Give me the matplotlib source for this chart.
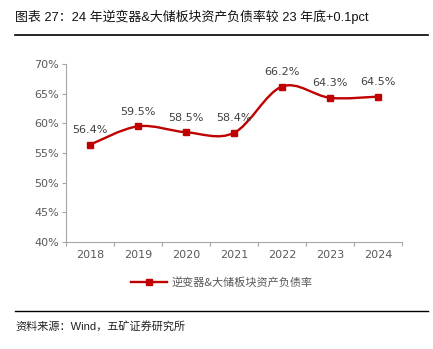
import numpy as np
import matplotlib.pyplot as plt
from matplotlib.path import Path
from matplotlib.patches import PathPatch
from matplotlib.lines import Line2D

years = ["2018", "2019", "2020", "2021", "2022", "2023", "2024"]
ratio = [56.4, 59.5, 58.5, 58.4, 66.2, 64.3, 64.5]
yticks = [40, 45, 50, 55, 60, 65, 70]

title = "图表 27：24 年逆变器&大储板块资产负债率较 23 年底+0.1pct"
series_name = "逆变器&大储板块资产负债率"
source = "资料来源：Wind，五矿证券研究所"

RED = "#C00000"
GRAY = "#595959"
CJK = ["Liberation Sans", "Noto Sans CJK SC"]

plt.rcParams["font.family"] = ["DejaVu Sans", "Noto Sans CJK SC"]


def smooth_path(xs, ys):
    # excel-like smoothed line: cubic bezier, catmull-rom control points
    pts = np.column_stack([xs, ys]).astype(float)
    n = len(pts)
    verts = [pts[0]]
    codes = [Path.MOVETO]
    for i in range(n - 1):
        p0 = pts[max(i - 1, 0)]
        p1 = pts[i]
        p2 = pts[i + 1]
        p3 = pts[min(i + 2, n - 1)]
        c1 = p1 + (p2 - p0) / 6
        c2 = p2 - (p3 - p1) / 6
        verts += [c1, c2, p2]
        codes += [Path.CURVE4] * 3
    return Path(verts, codes)


fig = plt.figure(figsize=(4.33, 3.49), dpi=100)
ax = fig.add_axes([66 / 433, 1 - 242 / 349, 336 / 433, 178 / 349])

x = np.arange(len(years))
ax.add_patch(PathPatch(smooth_path(x, ratio), fill=False, edgecolor=RED,
                       linewidth=1.7, capstyle="round", joinstyle="round", zorder=2))
ax.plot(x, ratio, linestyle="none", marker="s", markersize=5, color=RED, zorder=3)

for xi, v in zip(x, ratio):
    ax.annotate(f"{v:.1f}%", (xi, v), xytext=(0, 7), textcoords="offset points",
                ha="center", va="bottom", fontsize=8, color="#404040")

ax.set_xlim(-0.5, len(years) - 0.5)
ax.set_ylim(40, 70)
ax.set_yticks(yticks)
ax.set_yticklabels([f"{t}%" for t in yticks])
ax.set_xticks(x)
ax.set_xticklabels(years)
ax.set_xticks(np.arange(len(years) + 1) - 0.5, minor=True)
ax.tick_params(axis="x", which="major", length=0, pad=6, labelsize=8, labelcolor=GRAY)
ax.tick_params(axis="x", which="minor", length=3, color="#A6A6A6", width=0.8)
ax.tick_params(axis="y", length=3, color="#A6A6A6", width=0.8, pad=2,
               labelsize=8, labelcolor=GRAY)
for s in ["top", "right"]:
    ax.spines[s].set_visible(False)
for s in ["left", "bottom"]:
    ax.spines[s].set_color("#A6A6A6")
    ax.spines[s].set_linewidth(0.8)

handle = Line2D([], [], color=RED, linewidth=1.7, marker="s", markersize=5)
fig.legend([handle], [series_name], loc="center", bbox_to_anchor=(222 / 433, 1 - 282 / 349),
           frameon=False, handlelength=3.2, handletextpad=0.4,
           prop={"family": ["Noto Sans CJK SC"], "size": 8}, labelcolor=GRAY)

fig.text(15 / 433, 1 - 17 / 349, title, ha="left", va="center", fontsize=9.3,
         family=CJK, color="#111111")
fig.add_artist(Line2D([15 / 433, 428 / 433], [1 - 34.5 / 349] * 2, color="black", linewidth=1.2))
fig.add_artist(Line2D([15 / 433, 428 / 433], [1 - 311 / 349] * 2, color="black", linewidth=1.0))
fig.text(15 / 433, 1 - 326 / 349, source, ha="left", va="center", fontsize=8,
         family=CJK, color="#222222")

fig.savefig("out.png", dpi=100)
